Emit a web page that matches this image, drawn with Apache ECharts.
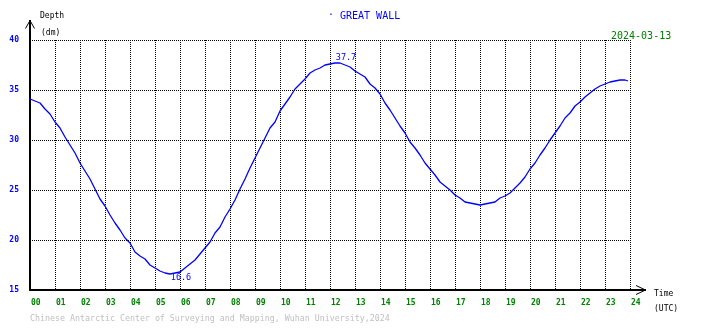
<!DOCTYPE html>
<html>
<head>
<meta charset="utf-8">
<title>GREAT WALL tide</title>
<script src="https://cdn.jsdelivr.net/npm/echarts@6/dist/echarts.min.js"></script>
<style>
  html, body { margin: 0; padding: 0; background: #ffffff; }
  #chart { width: 710px; height: 328px; }
</style>
</head>
<body>
<div id="chart"></div>
<script>
// Station and date
const stationName = 'GREAT WALL';
const dateLabel = '2024-03-13';
const footerText = 'Chinese Antarctic Center of Surveying and Mapping, Wuhan University,2024';

// Sample times (hours UTC)
const hours = [
  0.0, 0.2, 0.4, 0.6, 0.8, 1.0, 1.2, 1.4, 1.6, 1.8,
  2.0, 2.2, 2.4, 2.6, 2.8, 3.0, 3.2, 3.4, 3.6, 3.8,
  4.0, 4.2, 4.4, 4.6, 4.8, 5.0, 5.2, 5.4, 5.6, 5.8,
  6.0, 6.2, 6.4, 6.6, 6.8, 7.0, 7.2, 7.4, 7.6, 7.8,
  8.0, 8.2, 8.4, 8.6, 8.8, 9.0, 9.2, 9.4, 9.6, 9.8,
  10.0, 10.2, 10.4, 10.6, 10.8, 11.0, 11.2, 11.4, 11.6, 11.8,
  12.0, 12.2, 12.4, 12.6, 12.8, 13.0, 13.2, 13.4, 13.6, 13.8,
  14.0, 14.2, 14.4, 14.6, 14.8, 15.0, 15.2, 15.4, 15.6, 15.8,
  16.0, 16.2, 16.4, 16.6, 16.8, 17.0, 17.2, 17.4, 17.6, 17.8,
  18.0, 18.2, 18.4, 18.6, 18.8, 19.0, 19.2, 19.4, 19.6, 19.8,
  20.0, 20.2, 20.4, 20.6, 20.8, 21.0, 21.2, 21.4, 21.6, 21.8,
  22.0, 22.2, 22.4, 22.6, 22.8, 23.0, 23.2, 23.4, 23.6, 23.8,
  23.92
];

// Water depth (dm)
const depth = [
  34.1, 33.9, 33.7, 33.1, 32.6, 31.8, 31.2, 30.3, 29.5, 28.7,
  27.7, 26.9, 26.1, 25.1, 24.1, 23.4, 22.5, 21.7, 21.0, 20.2,
  19.7, 18.8, 18.4, 18.1, 17.5, 17.2, 16.9, 16.7, 16.6, 16.7,
  16.8, 17.2, 17.6, 18.0, 18.6, 19.2, 19.8, 20.7, 21.3, 22.3,
  23.1, 24.0, 25.1, 26.1, 27.2, 28.2, 29.2, 30.2, 31.2, 31.8,
  32.9, 33.6, 34.3, 35.1, 35.6, 36.1, 36.7, 37.0, 37.2, 37.5,
  37.6, 37.7, 37.7, 37.5, 37.3, 36.9, 36.6, 36.3, 35.6, 35.2,
  34.6, 33.7, 33.0, 32.2, 31.4, 30.7, 29.8, 29.2, 28.5, 27.7,
  27.1, 26.5, 25.8, 25.4, 25.0, 24.5, 24.2, 23.8, 23.7, 23.6,
  23.5, 23.6, 23.7, 23.8, 24.2, 24.4, 24.7, 25.2, 25.7, 26.3,
  27.1, 27.7, 28.5, 29.2, 30.0, 30.7, 31.4, 32.2, 32.7, 33.4,
  33.8, 34.3, 34.7, 35.1, 35.4, 35.6, 35.8, 35.9, 36.0, 36.0,
  35.9
];

// Axis ranges
const timeMin = 0, timeMax = 24, timeStep = 1;
const depthMin = 15, depthMax = 40, depthStep = 5;

// Plot frame
const G = { left: 30, top: 40, width: 600, height: 250 };
const mono = '"DejaVu Sans Mono", "Liberation Mono", monospace';
const BLUE = '#0000ff', GREEN = '#008000';

// Highest and lowest points get value labels
let iMax = 0, iMin = 0;
depth.forEach((v, i) => {
  if (v > depth[iMax]) iMax = i;
  if (v < depth[iMin]) iMin = i;
});

const seriesData = hours.map((h, i) => {
  const item = { value: [h, depth[i]] };
  if (i === iMax) {
    item.label = { show: true, position: 'top', distance: 1, offset: [11, 0] };
  } else if (i === iMin) {
    item.label = { show: true, position: 'bottom', distance: 0, offset: [11, -1] };
  }
  return item;
});

const gridBottom = G.top + G.height;
const gridRight = G.left + G.width;
const dotted = { color: '#000', width: 1, type: [1, 1] };

const chart = echarts.init(document.getElementById('chart'), null, { renderer: 'canvas' });

chart.setOption({
  animation: false,
  backgroundColor: '#ffffff',
  grid: { left: G.left, top: G.top, width: G.width, height: G.height, containLabel: false },
  xAxis: {
    type: 'value',
    min: timeMin, max: timeMax, interval: timeStep,
    axisLine: { show: true, lineStyle: { color: '#000', width: 2 } },
    axisTick: { show: false },
    splitLine: { show: true, lineStyle: dotted },
    axisLabel: {
      show: true, color: GREEN, fontFamily: mono, fontSize: 8, fontWeight: 'bold',
      align: 'left', margin: 9, padding: [0, 0, 0, 1],
      formatter: v => String(v).padStart(2, '0')
    }
  },
  yAxis: {
    type: 'value',
    min: depthMin, max: depthMax, interval: depthStep,
    axisLine: { show: true, lineStyle: { color: '#000', width: 2 } },
    axisTick: { show: false },
    splitLine: { show: true, lineStyle: dotted },
    axisLabel: {
      show: true, color: BLUE, fontFamily: mono, fontSize: 8, fontWeight: 'bold',
      margin: 11, padding: [0, 0, 4, 0]
    }
  },
  series: [{
    type: 'line',
    data: seriesData,
    showSymbol: true,
    showAllSymbol: true,
    symbol: 'circle',
    symbolSize: 0,
    smooth: false,
    lineStyle: { color: BLUE, width: 1.3 },
    itemStyle: { color: BLUE },
    label: {
      show: false, color: BLUE, fontFamily: mono, fontSize: 8.5,
      formatter: p => p.value[1].toFixed(1)
    },
    z: 5
  }],
  graphic: [
    // axis extensions with open arrow heads
    { type: 'line', shape: { x1: G.left, y1: G.top, x2: G.left, y2: 20 }, style: { stroke: '#000', lineWidth: 2 } },
    { type: 'polyline', shape: { points: [[25.5, 28.5], [G.left, 20.5], [34.5, 28.5]] }, style: { stroke: '#000', lineWidth: 1, fill: null } },
    { type: 'line', shape: { x1: gridRight, y1: gridBottom, x2: 646, y2: gridBottom }, style: { stroke: '#000', lineWidth: 2 } },
    { type: 'polyline', shape: { points: [[636, 285.5], [645.5, gridBottom], [636, 294.5]] }, style: { stroke: '#000', lineWidth: 1, fill: null } },
    // texts
    { type: 'text', left: 40, top: 12, style: { text: 'Depth', fill: '#000', font: '8px ' + mono } },
    { type: 'text', left: 41, top: 29, style: { text: '(dm)', fill: '#000', font: '8px ' + mono } },
    { type: 'text', left: 654, top: 290, style: { text: 'Time', fill: '#000', font: '8px ' + mono } },
    { type: 'text', left: 654, top: 305, style: { text: '(UTC)', fill: '#000', font: '8px ' + mono } },
    { type: 'text', left: 328, top: 10, style: { text: '·', fill: BLUE, font: '10px ' + mono } },
    { type: 'text', left: 340, top: 11, style: { text: stationName, fill: BLUE, font: '10px ' + mono } },
    { type: 'text', left: 611, top: 31, style: { text: dateLabel, fill: GREEN, font: '10px ' + mono } },
    { type: 'text', left: 30, top: 315, style: { text: footerText, fill: '#c0c0c0', font: '8.3px ' + mono } }
  ]
});
</script>
</body>
</html>
